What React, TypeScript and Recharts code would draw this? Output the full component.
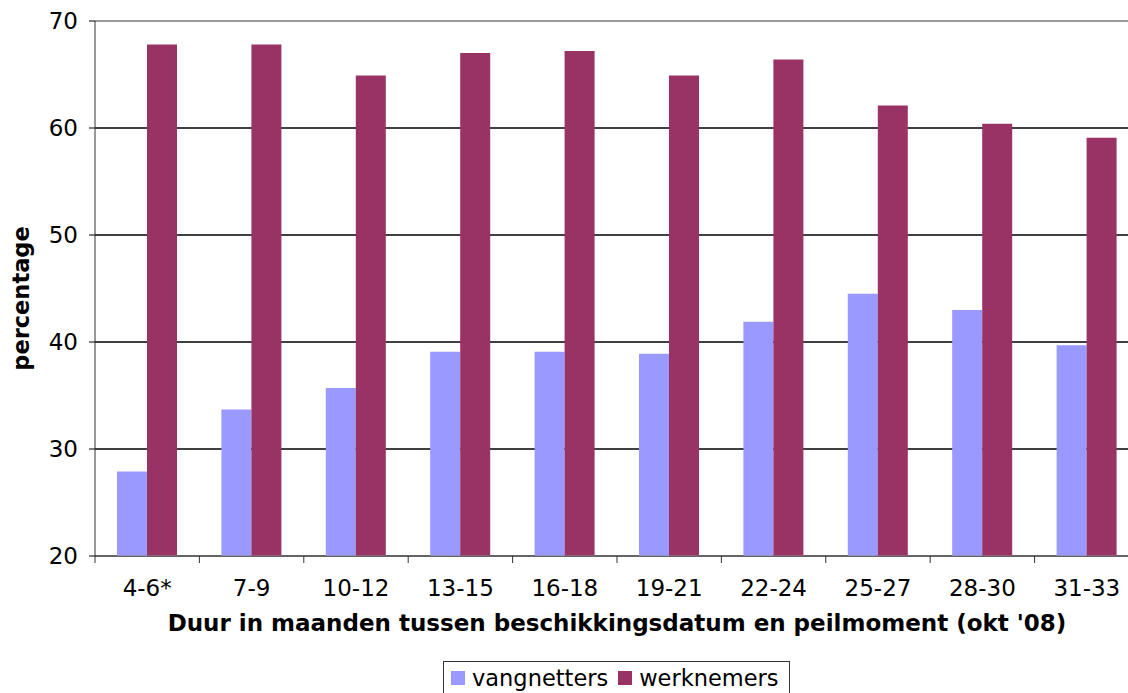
import { BarChart, Bar, XAxis, YAxis, CartesianGrid, Legend, ReferenceLine } from "recharts"

const categories = ["4-6*", "7-9", "10-12", "13-15", "16-18", "19-21", "22-24", "25-27", "28-30", "31-33"]
const vangnetters = [27.9, 33.7, 35.7, 39.1, 39.1, 38.9, 41.9, 44.5, 43.0, 39.7]
const werknemers = [67.8, 67.8, 64.9, 67.0, 67.2, 64.9, 66.4, 62.1, 60.4, 59.1]
const yTicks = [20, 30, 40, 50, 60, 70]

const data = categories.map((name, i) => ({
  name,
  vangnetters: vangnetters[i],
  werknemers: werknemers[i],
}))

const FONT = "'DejaVu Sans', Verdana, sans-serif"
const BLUE = "#9999FF"
const RED = "#993366"

const XTick = (props: any) => {
  const { x, y, payload, index } = props
  const half = payload && payload.offset ? payload.offset : 52
  const axisY = y - 8
  return (
    <g>
      <line x1={x - half} x2={x - half} y1={axisY} y2={axisY + 7} stroke="#333" />
      {index === categories.length - 1 && (
        <line x1={x + half} x2={x + half} y1={axisY} y2={axisY + 7} stroke="#333" />
      )}
      <text x={x} y={axisY + 40} textAnchor="middle" fontSize={23} fill="#000" fontFamily={FONT}>
        {payload.value}
      </text>
    </g>
  )
}

const YTick = (props: any) => {
  const { x, y, payload } = props
  return (
    <text x={x - 9} y={y} textAnchor="end" dominantBaseline="central" fontSize={23} fill="#000" fontFamily={FONT}>
      {payload.value}
    </text>
  )
}

const LegendBox = () => (
  <div
    style={{
      display: "inline-flex",
      alignItems: "center",
      border: "1px solid #333",
      padding: "2px 10px 6px 7px",
      background: "#fff",
      fontFamily: FONT,
      fontSize: 22.5,
      color: "#000",
      lineHeight: "28px",
    }}
  >
    <span style={{ width: 14, height: 14, background: BLUE, display: "inline-block", marginRight: 7 }} />
    <span style={{ marginRight: 10 }}>vangnetters</span>
    <span style={{ width: 14, height: 14, background: RED, display: "inline-block", marginRight: 7 }} />
    <span>werknemers</span>
  </div>
)

export default function App() {
  return (
    <div style={{ position: "absolute", left: 0, top: 0, width: 1128, height: 693, overflow: "hidden", background: "#fff" }}>
      <BarChart
        width={1150}
        height={709}
        data={data}
        margin={{ top: 21, right: 11, left: 0, bottom: 10 }}
        barCategoryGap={22}
        barGap={0}
      >
        <CartesianGrid horizontal={true} vertical={false} stroke="#000" strokeWidth={1.3} />
        <ReferenceLine y={70} stroke="#999" strokeWidth={2} />
        <XAxis
          dataKey="name"
          stroke="#888"
          tickLine={false}
          tick={<XTick />}
          height={105}
          interval={0}
          label={({ viewBox }: any) => (
            <text
              x={viewBox.x + viewBox.width / 2}
              y={viewBox.y + 75}
              textAnchor="middle"
              fontSize={23}
              fontWeight="bold"
              fontFamily={FONT}
              fill="#000"
            >
              Duur in maanden tussen beschikkingsdatum en peilmoment (okt '08)
            </text>
          )}
        />
        <YAxis
          width={95}
          domain={[20, 70]}
          ticks={yTicks}
          stroke="#333"
          tickSize={6}
          tick={<YTick />}
          tickLine={{ stroke: "#000" }}
          label={({ viewBox }: any) => {
            const cx = viewBox.x + 21
            const cy = viewBox.y + viewBox.height / 2 + 10
            return (
              <text
                x={cx}
                y={cy}
                transform={`rotate(-90 ${cx} ${cy})`}
                textAnchor="middle"
                dominantBaseline="central"
                fontSize={22.5}
                fontWeight="bold"
                fontFamily={FONT}
                fill="#000"
              >
                percentage
              </text>
            )
          }}
        />
        <Legend
          verticalAlign="bottom"
          content={<LegendBox />}
          wrapperStyle={{ left: 443, width: "auto" }}
        />
        <Bar dataKey="vangnetters" fill={BLUE} isAnimationActive={false} />
        <Bar dataKey="werknemers" fill={RED} isAnimationActive={false} />
      </BarChart>
    </div>
  )
}
